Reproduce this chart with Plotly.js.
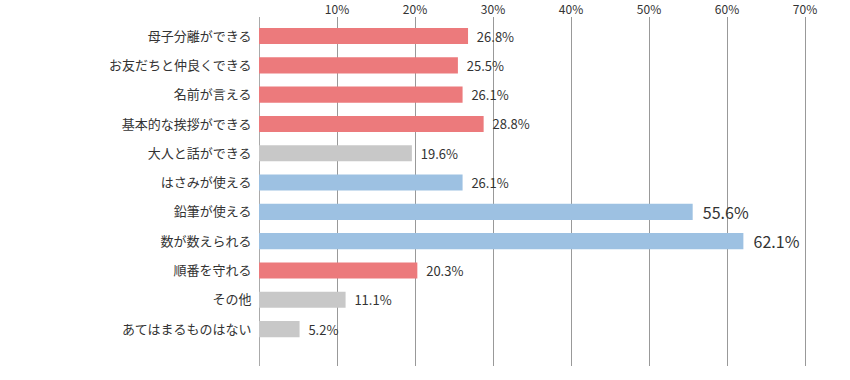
<!DOCTYPE html>
<html>
<head>
<meta charset="utf-8">
<script src="https://cdn.plot.ly/plotly-3.0.1.min.js"></script>
<style>html,body{margin:0;padding:0;background:#fff;}#chart{width:850px;height:380px;}</style>
</head>
<body>
<div id="chart"></div>
<script>
const categories = ["母子分離ができる","お友だちと仲良くできる","名前が言える","基本的な挨拶ができる","大人と話ができる","はさみが使える","鉛筆が使える","数が数えられる","順番を守れる","その他","あてはまるものはない"];
const values = [26.8, 25.5, 26.1, 28.8, 19.6, 26.1, 55.6, 62.1, 20.3, 11.1, 5.2];
const groups = ["social","social","social","social","other","skill","skill","skill","social","other","other"];
const tickValues = [10, 20, 30, 40, 50, 60, 70];

const groupColors = {social: "#EC7A7C", other: "#C8C8C8", skill: "#9DC1E2"};

const trace = {
  type: "bar",
  orientation: "h",
  y: categories,
  x: values,
  marker: {color: groups.map(g => groupColors[g])},
  text: values.map(v => "\u00A0\u00A0" + v.toFixed(1) + "%"),
  textposition: "outside",
  constraintext: "none",
  cliponaxis: false,
  textfont: {family: "Noto Sans CJK JP, sans-serif", color: "#333", size: values.map(v => v > 50 ? 16 : 13)},
  hoverinfo: "none"
};

const layout = {
  width: 850, height: 380,
  margin: {l: 259, r: 6, t: 17, b: 14},
  paper_bgcolor: "#fff", plot_bgcolor: "#fff",
  showlegend: false,
  bargap: 0.45,
  font: {family: "Noto Sans CJK JP, sans-serif", color: "#333", size: 13},
  xaxis: {
    side: "top",
    range: [0, 75],
    tickvals: tickValues,
    ticktext: tickValues.map(v => v + "%"),
    showgrid: true, gridcolor: "#999", gridwidth: 1,
    zeroline: true, zerolinecolor: "#aaa", zerolinewidth: 1,
    showline: false, ticks: "",
    ticklabelstandoff: 0,
    tickfont: {size: 12, color: "#333"}
  },
  yaxis: {
    type: "category",
    range: [11.26, -0.65],
    showgrid: false, zeroline: false, showline: false,
    ticks: "outside", ticklen: 4, tickcolor: "rgba(0,0,0,0)",
    tickfont: {size: 13, color: "#333"}
  }
};

Plotly.newPlot("chart", [trace], layout, {displayModeBar: false, staticPlot: true});
</script>
</body>
</html>
